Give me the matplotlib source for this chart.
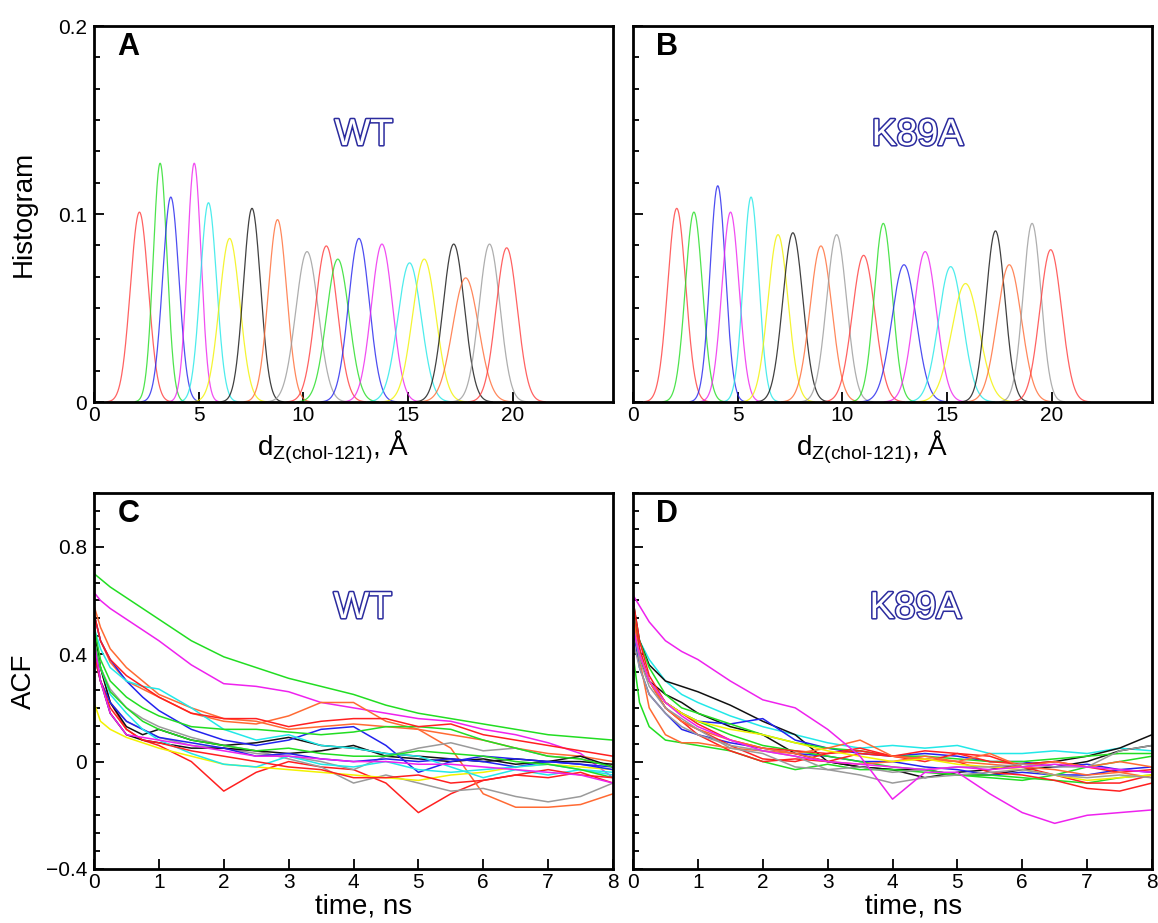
import numpy as np
import matplotlib
matplotlib.use('Agg')
from matplotlib import pyplot as plt
from matplotlib.ticker import MultipleLocator, FixedLocator
import matplotlib.patheffects as pe

plt.rcParams['font.family'] = ['Liberation Sans', 'DejaVu Sans']
plt.rcParams['mathtext.fontset'] = 'custom'
plt.rcParams['mathtext.rm'] = 'Liberation Sans'

# colour cycle used for the windows
colors = ['#ff3b3b', '#22dd22', '#2222ee', '#ee22ee', '#22e8e8',
          '#f2f200', '#111111', '#ff6a33', '#9a9a9a']

# ---- histograms: peak centre (A), peak height, peak width (A)
wt_center = [2.17, 3.16, 3.67, 4.79, 5.47, 6.48, 7.55, 8.77, 10.18, 11.10,
             11.65, 12.66, 13.76, 15.08, 15.78, 17.19, 17.76, 18.90, 19.72]
wt_height = [0.101, 0.127, 0.109, 0.127, 0.106, 0.087, 0.103, 0.097, 0.080, 0.083,
             0.076, 0.087, 0.084, 0.074, 0.076, 0.084, 0.066, 0.084, 0.082]
wt_width = [0.43, 0.33, 0.39, 0.33, 0.39, 0.49, 0.41, 0.44, 0.54, 0.52,
            0.54, 0.50, 0.51, 0.56, 0.56, 0.51, 0.62, 0.50, 0.51]

mut_center = [2.09, 2.91, 4.05, 4.66, 5.64, 6.93, 7.64, 8.98, 9.73, 11.02,
              11.96, 12.95, 13.96, 15.18, 15.89, 17.32, 17.98, 19.07, 19.96]
mut_height = [0.103, 0.101, 0.115, 0.101, 0.109, 0.089, 0.090, 0.083, 0.089, 0.078,
              0.095, 0.073, 0.080, 0.072, 0.063, 0.091, 0.073, 0.095, 0.081]
mut_width = [0.43, 0.41, 0.37, 0.41, 0.37, 0.48, 0.48, 0.52, 0.48, 0.54,
             0.43, 0.58, 0.54, 0.58, 0.66, 0.45, 0.58, 0.43, 0.52]

# ---- autocorrelation functions, sampled at these times (ns)
t = [0, 0.1, 0.25, 0.5, 0.75, 1, 1.5, 2, 2.5, 3, 3.5, 4, 4.5, 5, 5.5, 6, 6.5, 7, 7.5, 8]

wt_acf = [
    ('#22dd22', [0.70, 0.68, 0.65, 0.61, 0.57, 0.53, 0.45, 0.39, 0.35, 0.31, 0.28, 0.25, 0.21, 0.18, 0.16, 0.14, 0.12, 0.10, 0.09, 0.08]),
    ('#ee22ee', [0.63, 0.60, 0.57, 0.53, 0.49, 0.45, 0.36, 0.29, 0.28, 0.26, 0.22, 0.20, 0.18, 0.16, 0.15, 0.12, 0.10, 0.07, 0.03, -0.06]),
    ('#ff2020', [0.50, 0.35, 0.22, 0.12, 0.08, 0.06, 0.00, -0.11, -0.04, 0.00, -0.02, -0.03, -0.08, -0.19, -0.12, -0.07, -0.05, -0.06, -0.04, -0.08]),
    ('#ff6a33', [0.55, 0.45, 0.37, 0.30, 0.27, 0.24, 0.18, 0.15, 0.14, 0.17, 0.22, 0.22, 0.15, 0.12, 0.05, -0.12, -0.17, -0.17, -0.16, -0.12]),
    ('#ff6a33', [0.58, 0.50, 0.42, 0.35, 0.30, 0.25, 0.20, 0.16, 0.15, 0.12, 0.13, 0.14, 0.13, 0.12, 0.10, 0.08, 0.05, 0.03, 0.02, 0.00]),
    ('#9a9a9a', [0.45, 0.35, 0.27, 0.20, 0.16, 0.13, 0.09, 0.06, 0.04, 0.01, -0.02, -0.08, -0.05, -0.08, -0.11, -0.10, -0.13, -0.15, -0.13, -0.08]),
    ('#9a9a9a', [0.40, 0.30, 0.22, 0.15, 0.12, 0.09, 0.06, 0.05, 0.03, 0.02, 0.00, -0.03, 0.02, 0.05, 0.07, 0.04, 0.05, 0.02, 0.01, -0.02]),
    ('#f2f200', [0.22, 0.15, 0.12, 0.09, 0.07, 0.05, 0.02, -0.01, -0.02, -0.03, -0.04, -0.05, -0.06, -0.07, -0.05, -0.04, -0.02, -0.01, -0.02, -0.03]),
    ('#111111', [0.50, 0.35, 0.22, 0.13, 0.10, 0.12, 0.08, 0.06, 0.07, 0.09, 0.06, 0.05, 0.03, 0.02, 0.01, 0.00, 0.01, 0.00, 0.02, -0.02]),
    ('#111111', [0.45, 0.30, 0.18, 0.10, 0.08, 0.07, 0.05, 0.05, 0.04, 0.03, 0.04, 0.06, 0.02, 0.01, 0.00, 0.01, -0.01, 0.00, 0.00, -0.01]),
    ('#2222ee', [0.55, 0.45, 0.38, 0.30, 0.24, 0.19, 0.12, 0.08, 0.06, 0.08, 0.12, 0.13, 0.06, -0.04, 0.00, 0.02, 0.01, 0.00, -0.01, -0.02]),
    ('#2222ee', [0.40, 0.30, 0.22, 0.15, 0.12, 0.09, 0.07, 0.05, 0.02, 0.03, 0.01, 0.00, 0.01, 0.00, 0.01, 0.00, -0.02, 0.00, -0.01, -0.03]),
    ('#22e8e8', [0.50, 0.42, 0.35, 0.30, 0.28, 0.27, 0.20, 0.12, 0.08, 0.10, 0.06, 0.05, 0.03, 0.02, -0.02, -0.06, -0.03, -0.05, -0.03, -0.05]),
    ('#22e8e8', [0.45, 0.35, 0.25, 0.18, 0.12, 0.08, 0.03, -0.01, -0.02, 0.02, -0.01, -0.02, 0.00, -0.03, -0.04, -0.03, -0.02, -0.01, -0.03, -0.04]),
    ('#22dd22', [0.50, 0.38, 0.30, 0.24, 0.20, 0.17, 0.13, 0.12, 0.12, 0.11, 0.10, 0.11, 0.13, 0.13, 0.12, 0.08, 0.05, 0.02, 0.01, -0.02]),
    ('#22dd22', [0.45, 0.35, 0.26, 0.20, 0.15, 0.12, 0.08, 0.06, 0.04, 0.05, 0.03, 0.02, 0.02, 0.04, 0.03, 0.02, 0.00, -0.01, -0.03, -0.06]),
    ('#ff2020', [0.55, 0.45, 0.38, 0.32, 0.28, 0.24, 0.18, 0.16, 0.16, 0.13, 0.15, 0.16, 0.16, 0.13, 0.14, 0.10, 0.08, 0.06, 0.04, 0.02]),
    ('#ff2020', [0.40, 0.30, 0.20, 0.12, 0.08, 0.07, 0.04, 0.02, 0.00, -0.02, -0.03, -0.06, -0.06, -0.05, -0.08, -0.07, -0.05, -0.03, -0.05, -0.06]),
    ('#ee22ee', [0.45, 0.30, 0.18, 0.10, 0.09, 0.08, 0.06, 0.04, 0.02, 0.02, 0.01, 0.00, 0.00, -0.01, -0.01, -0.02, -0.03, -0.04, -0.05, -0.08]),
]

mut_acf = [
    ('#22e8e8', [0.55, 0.45, 0.38, 0.30, 0.25, 0.22, 0.17, 0.13, 0.10, 0.07, 0.05, 0.06, 0.05, 0.06, 0.03, 0.03, 0.04, 0.03, 0.05, 0.04]),
    ('#111111', [0.60, 0.45, 0.36, 0.30, 0.28, 0.26, 0.21, 0.15, 0.10, 0.00, -0.02, -0.03, -0.06, -0.04, -0.03, -0.01, 0.00, 0.02, 0.05, 0.10]),
    ('#111111', [0.50, 0.38, 0.30, 0.25, 0.22, 0.18, 0.13, 0.10, 0.03, 0.00, -0.02, -0.03, -0.03, -0.05, -0.05, -0.03, -0.02, 0.00, 0.04, 0.06]),
    ('#2222ee', [0.55, 0.42, 0.30, 0.22, 0.18, 0.15, 0.14, 0.16, 0.08, 0.05, 0.03, 0.02, 0.03, 0.02, 0.00, 0.00, -0.02, -0.01, -0.03, -0.02]),
    ('#2222ee', [0.50, 0.35, 0.25, 0.18, 0.12, 0.10, 0.07, 0.05, 0.03, 0.02, 0.00, 0.00, -0.02, -0.03, -0.05, -0.04, -0.05, -0.05, -0.03, -0.04]),
    ('#22dd22', [0.40, 0.22, 0.13, 0.08, 0.07, 0.06, 0.04, 0.00, -0.03, -0.01, -0.03, -0.03, -0.04, -0.05, -0.05, -0.06, -0.07, -0.08, -0.06, -0.05]),
    ('#22dd22', [0.55, 0.45, 0.35, 0.25, 0.20, 0.18, 0.14, 0.10, 0.07, 0.05, 0.04, 0.02, 0.02, 0.01, 0.00, 0.00, 0.01, 0.02, 0.03, 0.03]),
    ('#22dd22', [0.50, 0.40, 0.30, 0.22, 0.18, 0.15, 0.10, 0.06, 0.04, 0.02, 0.00, -0.02, -0.03, -0.05, -0.06, -0.07, -0.05, -0.02, 0.00, 0.02]),
    ('#ff2020', [0.55, 0.42, 0.30, 0.20, 0.15, 0.12, 0.06, 0.01, 0.00, 0.03, 0.04, 0.02, 0.00, 0.03, 0.02, -0.02, -0.05, -0.08, -0.08, -0.05]),
    ('#ff2020', [0.60, 0.45, 0.32, 0.22, 0.18, 0.14, 0.08, 0.05, 0.04, 0.03, 0.05, 0.02, 0.01, 0.00, -0.04, -0.05, -0.07, -0.10, -0.11, -0.08]),
    ('#ff2020', [0.50, 0.40, 0.30, 0.20, 0.15, 0.10, 0.04, 0.00, 0.01, 0.00, 0.03, 0.02, 0.04, 0.03, 0.00, -0.01, 0.00, -0.02, -0.04, -0.03]),
    ('#ff6a33', [0.55, 0.38, 0.20, 0.10, 0.07, 0.07, 0.05, 0.04, 0.03, 0.05, 0.08, 0.02, 0.01, 0.00, 0.03, -0.02, 0.00, -0.02, 0.00, -0.02]),
    ('#ff6a33', [0.50, 0.40, 0.30, 0.20, 0.15, 0.12, 0.08, 0.05, 0.03, 0.00, -0.01, 0.00, 0.02, 0.00, -0.01, -0.02, -0.03, -0.05, -0.04, -0.06]),
    ('#f2f200', [0.50, 0.40, 0.30, 0.22, 0.18, 0.15, 0.12, 0.10, 0.07, 0.04, 0.02, 0.00, 0.01, -0.01, -0.02, -0.03, -0.05, -0.07, -0.06, -0.05]),
    ('#9a9a9a', [0.50, 0.38, 0.28, 0.20, 0.16, 0.12, 0.05, 0.03, -0.02, -0.03, -0.05, -0.08, -0.06, -0.05, -0.04, -0.03, -0.05, -0.06, -0.05, -0.06]),
    ('#9a9a9a', [0.45, 0.35, 0.25, 0.18, 0.13, 0.10, 0.06, 0.04, 0.02, -0.03, -0.02, -0.04, -0.03, -0.02, -0.02, -0.01, -0.02, -0.02, 0.04, 0.06]),
    ('#ee22ee', [0.50, 0.40, 0.30, 0.22, 0.17, 0.13, 0.08, 0.04, 0.02, 0.00, -0.01, -0.02, -0.03, -0.02, -0.03, -0.02, -0.01, -0.02, -0.03, -0.04]),
    ('#ee22ee', [0.62, 0.58, 0.52, 0.45, 0.41, 0.38, 0.30, 0.23, 0.20, 0.12, 0.02, -0.14, -0.04, -0.04, -0.12, -0.19, -0.23, -0.20, -0.19, -0.18]),
]


def style(ax):
    for s in ax.spines.values():
        s.set_linewidth(2.0)
    ax.tick_params(which='both', direction='in', top=False, right=False,
                   labelsize=15, width=1.3)
    ax.tick_params(which='major', length=7, pad=5)
    ax.tick_params(which='minor', length=4)
    ax.tick_params(axis='x', pad=3)


def tag(ax, letter, name, nx, ny):
    ax.text(0.045, 0.985, letter, transform=ax.transAxes, ha='left', va='top',
            fontsize=22, fontweight='bold')
    ax.text(nx, ny, name, transform=ax.transAxes, ha='center', va='center',
            fontsize=27, color='white',
            path_effects=[pe.withStroke(linewidth=2.2, foreground='#2b2b9e')])


fig = plt.figure(figsize=(11.58, 9.23), dpi=100)
W, H = 1158, 923
boxes = {'A': (94, 26), 'B': (633, 26), 'C': (94, 493), 'D': (633, 493)}
axes = {}
for k, (x0, y0) in boxes.items():
    axes[k] = fig.add_axes([x0 / W, 1 - (y0 + 376) / H, 519 / W, 376 / H])

xlab_hist = 'd$_{\\mathregular{Z(chol\u2010121)}}$, Å'

for k, centers, heights, widths, name, nx in (
        ('A', wt_center, wt_height, wt_width, 'WT', 0.52),
        ('B', mut_center, mut_height, mut_width, 'K89A', 0.548)):
    ax = axes[k]
    for i, (c, h, w) in enumerate(zip(centers, heights, widths)):
        x = np.linspace(c - 3.6 * w, c + 3.6 * w, 200)
        ax.plot(x, h * np.exp(-0.5 * ((x - c) / w) ** 2),
                color=colors[i % len(colors)], lw=0.9, alpha=0.8)
    ax.set_xlim(0, 24.8)
    ax.set_ylim(0, 0.2)
    ax.xaxis.set_major_locator(FixedLocator([0, 5, 10, 15, 20]))
    ax.yaxis.set_major_locator(FixedLocator([0, 0.1, 0.2]))
    ax.yaxis.set_minor_locator(MultipleLocator(0.2 / 12))
    ax.set_yticklabels(['0', '0.1', '0.2'])
    style(ax)
    ax.set_xlabel(xlab_hist, fontsize=20, labelpad=2)
    ax.xaxis.set_label_coords(0.46, -0.07)
    tag(ax, k, name, nx, 0.71)

for k, curves, name, nx in (('C', wt_acf, 'WT', 0.518), ('D', mut_acf, 'K89A', 0.544)):
    ax = axes[k]
    for c, vals in curves:
        ax.plot(t, vals, color=c, lw=1.1)
    ax.set_xlim(0, 8)
    ax.set_ylim(-0.4, 1.0)
    ax.xaxis.set_major_locator(MultipleLocator(1))
    ax.yaxis.set_major_locator(FixedLocator([-0.4, 0, 0.4, 0.8]))
    ax.yaxis.set_minor_locator(MultipleLocator(0.4 / 6))
    ax.set_yticklabels(['\u22120.4', '0', '0.4', '0.8'])
    style(ax)
    ax.set_xlabel('time, ns', fontsize=20, labelpad=0)
    ax.xaxis.set_label_coords(0.52 if k == 'C' else 0.54, -0.065)
    tag(ax, k, name, nx, 0.694)

for k in ('B', 'D'):
    axes[k].tick_params(labelleft=False)

axes['A'].set_ylabel('Histogram', fontsize=20)
axes['C'].set_ylabel('ACF', fontsize=20)
axes['A'].yaxis.set_label_coords(-0.11, 0.5)
axes['C'].yaxis.set_label_coords(-0.11, 0.5)

fig.savefig('out.png', dpi=100)
